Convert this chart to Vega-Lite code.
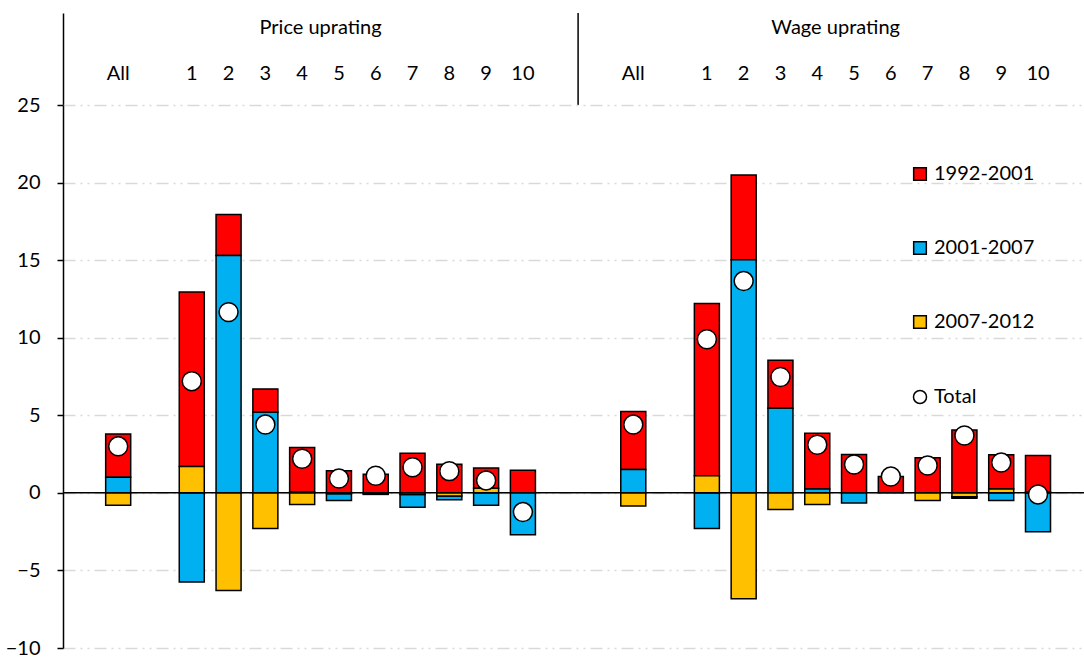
{
  "$schema": "https://vega.github.io/schema/vega-lite/v6.json",
  "padding": {"left": 5, "top": 12, "right": 0, "bottom": 0},
  "bounds": "flush",
  "spacing": 0,
  "datasets": {
    "bars": [
      {"key": "P-All", "period": "1992-2001", "value": 2.8},
      {"key": "P-All", "period": "2001-2007", "value": 1.0},
      {"key": "P-All", "period": "2007-2012", "value": -0.8},
      {"key": "P-1", "period": "1992-2001", "value": 11.25},
      {"key": "P-1", "period": "2001-2007", "value": -5.75},
      {"key": "P-1", "period": "2007-2012", "value": 1.7},
      {"key": "P-2", "period": "1992-2001", "value": 2.65},
      {"key": "P-2", "period": "2001-2007", "value": 15.3},
      {"key": "P-2", "period": "2007-2012", "value": -6.3},
      {"key": "P-3", "period": "1992-2001", "value": 1.5},
      {"key": "P-3", "period": "2001-2007", "value": 5.2},
      {"key": "P-3", "period": "2007-2012", "value": -2.3},
      {"key": "P-4", "period": "1992-2001", "value": 2.88},
      {"key": "P-4", "period": "2001-2007", "value": 0.05},
      {"key": "P-4", "period": "2007-2012", "value": -0.75},
      {"key": "P-5", "period": "1992-2001", "value": 1.42},
      {"key": "P-5", "period": "2001-2007", "value": -0.45},
      {"key": "P-5", "period": "2007-2012", "value": -0.05},
      {"key": "P-6", "period": "1992-2001", "value": 1.2},
      {"key": "P-6", "period": "2001-2007", "value": -0.05},
      {"key": "P-6", "period": "2007-2012", "value": -0.05},
      {"key": "P-7", "period": "1992-2001", "value": 2.55},
      {"key": "P-7", "period": "2001-2007", "value": -0.83},
      {"key": "P-7", "period": "2007-2012", "value": -0.1},
      {"key": "P-8", "period": "1992-2001", "value": 1.85},
      {"key": "P-8", "period": "2001-2007", "value": -0.25},
      {"key": "P-8", "period": "2007-2012", "value": -0.2},
      {"key": "P-9", "period": "1992-2001", "value": 1.3},
      {"key": "P-9", "period": "2001-2007", "value": -0.8},
      {"key": "P-9", "period": "2007-2012", "value": 0.3},
      {"key": "P-10", "period": "1992-2001", "value": 1.46},
      {"key": "P-10", "period": "2001-2007", "value": -2.7},
      {"key": "W-All", "period": "1992-2001", "value": 3.75},
      {"key": "W-All", "period": "2001-2007", "value": 1.5},
      {"key": "W-All", "period": "2007-2012", "value": -0.85},
      {"key": "W-1", "period": "1992-2001", "value": 11.1},
      {"key": "W-1", "period": "2001-2007", "value": -2.3},
      {"key": "W-1", "period": "2007-2012", "value": 1.1},
      {"key": "W-2", "period": "1992-2001", "value": 5.45},
      {"key": "W-2", "period": "2001-2007", "value": 15.03},
      {"key": "W-2", "period": "2007-2012", "value": -6.83},
      {"key": "W-3", "period": "1992-2001", "value": 3.1},
      {"key": "W-3", "period": "2001-2007", "value": 5.45},
      {"key": "W-3", "period": "2007-2012", "value": -1.08},
      {"key": "W-4", "period": "1992-2001", "value": 3.6},
      {"key": "W-4", "period": "2001-2007", "value": 0.25},
      {"key": "W-4", "period": "2007-2012", "value": -0.75},
      {"key": "W-5", "period": "1992-2001", "value": 2.48},
      {"key": "W-5", "period": "2001-2007", "value": -0.65},
      {"key": "W-6", "period": "1992-2001", "value": 1.05},
      {"key": "W-7", "period": "1992-2001", "value": 2.26},
      {"key": "W-7", "period": "2007-2012", "value": -0.5},
      {"key": "W-8", "period": "1992-2001", "value": 4.05},
      {"key": "W-8", "period": "2001-2007", "value": -0.1},
      {"key": "W-8", "period": "2007-2012", "value": -0.25},
      {"key": "W-9", "period": "1992-2001", "value": 2.2},
      {"key": "W-9", "period": "2001-2007", "value": -0.5},
      {"key": "W-9", "period": "2007-2012", "value": 0.25},
      {"key": "W-10", "period": "1992-2001", "value": 2.35},
      {"key": "W-10", "period": "2001-2007", "value": -2.5},
      {"key": "W-10", "period": "2007-2012", "value": 0.05}
    ],
    "totals": [
      {"key": "P-All", "decile": "All", "total": 3.0},
      {"key": "P-1", "decile": "1", "total": 7.2},
      {"key": "P-2", "decile": "2", "total": 11.65},
      {"key": "P-3", "decile": "3", "total": 4.4},
      {"key": "P-4", "decile": "4", "total": 2.2},
      {"key": "P-5", "decile": "5", "total": 0.92},
      {"key": "P-6", "decile": "6", "total": 1.1},
      {"key": "P-7", "decile": "7", "total": 1.65},
      {"key": "P-8", "decile": "8", "total": 1.4},
      {"key": "P-9", "decile": "9", "total": 0.8},
      {"key": "P-10", "decile": "10", "total": -1.24},
      {"key": "W-All", "decile": "All", "total": 4.4},
      {"key": "W-1", "decile": "1", "total": 9.9},
      {"key": "W-2", "decile": "2", "total": 13.65},
      {"key": "W-3", "decile": "3", "total": 7.47},
      {"key": "W-4", "decile": "4", "total": 3.1},
      {"key": "W-5", "decile": "5", "total": 1.83},
      {"key": "W-6", "decile": "6", "total": 1.05},
      {"key": "W-7", "decile": "7", "total": 1.76},
      {"key": "W-8", "decile": "8", "total": 3.7},
      {"key": "W-9", "decile": "9", "total": 1.95},
      {"key": "W-10", "decile": "10", "total": -0.1}
    ],
    "groups": [
      {"key": "P-5", "text": "Price uprating"},
      {"key": "W-5", "text": "Wage uprating"}
    ],
    "dividers": [
      {"key": "W-pad0"}
    ]
  },
  "vconcat": [
    {
      "width": 1021,
      "height": 92,
      "layer": [
        {
          "data": {"name": "groups"},
          "mark": {"type": "text", "fontSize": 20, "dy": -8, "color": "black"},
          "encoding": {
            "x": {"field": "key", "type": "nominal", "bandPosition": 0,
              "scale": {"type": "band", "domain": ["P-pad0","P-All","P-pad1","P-1","P-2","P-3","P-4","P-5","P-6","P-7","P-8","P-9","P-10","P-pad2","W-pad0","W-All","W-pad1","W-1","W-2","W-3","W-4","W-5","W-6","W-7","W-8","W-9","W-10"], "paddingInner": 0, "paddingOuter": 0.375, "align": 0},
              "axis": null},
            "y": {"datum": "group", "type": "nominal",
              "scale": {"type": "band", "domain": ["group", "category"], "paddingInner": 0, "paddingOuter": 0},
              "axis": {"title": null, "labels": false, "ticks": false, "grid": false, "domain": true, "domainColor": "black", "domainWidth": 1.5}},
            "text": {"field": "text"}
          }
        },
        {
          "data": {"name": "totals"},
          "mark": {"type": "text", "fontSize": 20, "dy": -8, "color": "black"},
          "encoding": {
            "x": {"field": "key", "type": "nominal"},
            "y": {"datum": "category", "type": "nominal"},
            "text": {"field": "decile"}
          }
        },
        {
          "data": {"name": "dividers"},
          "mark": {"type": "rule", "color": "black", "strokeWidth": 1.5},
          "encoding": {
            "x": {"field": "key", "type": "nominal", "bandPosition": 0}
          }
        }
      ]
    },
    {
      "width": 1021,
      "height": 543,
      "layer": [
        {
          "data": {"name": "bars"},
          "mark": {"type": "bar", "width": {"band": 0.68}, "stroke": "black", "strokeWidth": 1.5},
          "encoding": {
            "x": {"field": "key", "type": "nominal",
              "scale": {"type": "band", "domain": ["P-pad0","P-All","P-pad1","P-1","P-2","P-3","P-4","P-5","P-6","P-7","P-8","P-9","P-10","P-pad2","W-pad0","W-All","W-pad1","W-1","W-2","W-3","W-4","W-5","W-6","W-7","W-8","W-9","W-10"], "paddingInner": 0, "paddingOuter": 0.375, "align": 0},
              "axis": null},
            "y": {"field": "value", "type": "quantitative", "stack": "zero",
              "scale": {"domain": [-10, 25], "nice": false, "zero": false},
              "axis": {"values": [-10, -5, 0, 5, 10, 15, 20, 25], "title": null, "domainColor": "black", "domainWidth": 1.5, "tickColor": "black", "tickSize": 6, "tickWidth": 1.5, "labelFontSize": 20, "labelColor": "black", "labelPadding": 17, "grid": true, "gridColor": "#d9d9d9", "gridWidth": 1.5, "gridDash": [12, 5, 2, 5, 2, 5]}},
            "color": {"field": "period", "type": "nominal",
              "scale": {"domain": ["1992-2001", "2001-2007", "2007-2012"], "range": ["#ff0000", "#00b0f0", "#ffc000"]},
              "legend": {"title": null, "orient": "none", "legendX": 847, "legendY": 151, "symbolType": "square", "symbolSize": 160, "symbolStrokeColor": "black", "symbolStrokeWidth": 1.5, "symbolOpacity": 1, "labelFontSize": 20, "labelColor": "black", "labelOffset": 4, "rowPadding": 54, "padding": 0}},
            "order": {"field": "period", "sort": "descending"}
          }
        },
        {
          "data": {"name": "dividers"},
          "mark": {"type": "rule", "color": "black", "strokeWidth": 1.5},
          "encoding": {
            "y": {"datum": 0, "type": "quantitative"}
          }
        },
        {
          "data": {"name": "totals"},
          "mark": {"type": "point", "shape": "circle", "filled": true, "fill": "white", "fillOpacity": 1, "strokeWidth": 1.5, "size": 360, "opacity": 1},
          "encoding": {
            "x": {"field": "key", "type": "nominal"},
            "y": {"field": "total", "type": "quantitative"},
            "stroke": {"datum": "Total", "type": "nominal",
              "scale": {"domain": ["Total"], "range": ["black"]},
              "legend": {"title": null, "orient": "none", "legendX": 847, "legendY": 374, "symbolType": "circle", "symbolSize": 170, "symbolFillColor": "white", "symbolStrokeColor": "black", "symbolStrokeWidth": 1.5, "labelFontSize": 20, "labelColor": "black", "labelOffset": 4, "padding": 0}}
          }
        }
      ]
    }
  ],
  "config": {
    "font": "Lato",
    "view": {"stroke": null},
    "axis": {"labelFont": "Lato"},
    "legend": {"labelFont": "Lato"}
  }
}
